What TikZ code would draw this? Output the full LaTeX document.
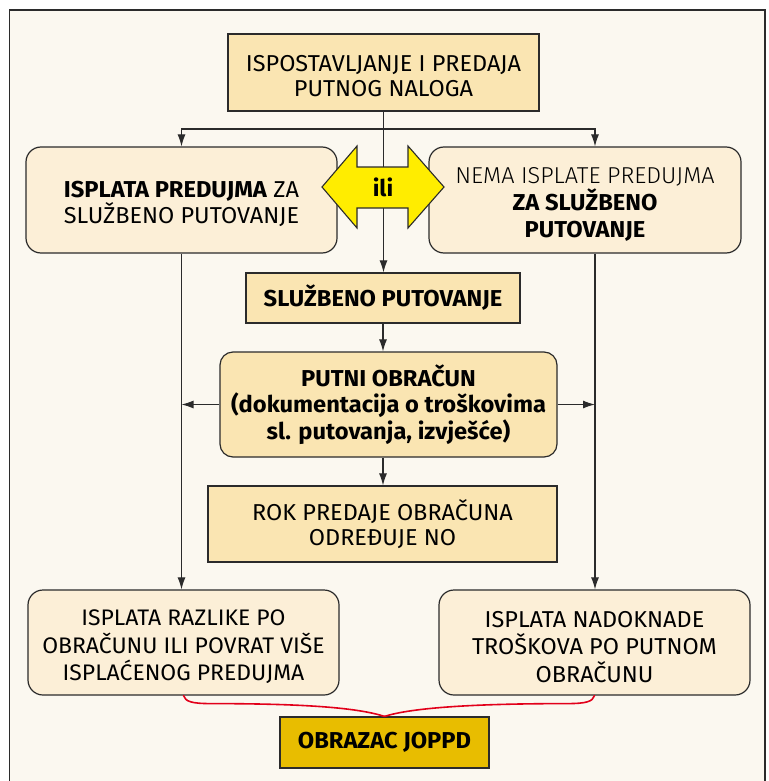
\documentclass[tikz,border=0pt]{standalone}
\usepackage{fontspec}
\setmainfont{Fira Sans}[FakeStretch=1.02, BoldFeatures={FakeStretch=1.03}]
\newfontfamily\lightfont{Fira Sans Light}[FakeStretch=1.02]
\usetikzlibrary{arrows.meta,calc}
\definecolor{cream}{HTML}{FBF8F0}
\definecolor{tan}{HTML}{FAE5B2}
\definecolor{lite}{HTML}{FCEFD7}
\definecolor{gold}{HTML}{E8BD00}
\definecolor{ylw}{HTML}{FFED00}
\definecolor{lnc}{HTML}{2B2B2B}
\definecolor{bracered}{HTML}{E2001A}
\newcommand\tup[1]{\rule{0pt}{#1pt}}
\tikzset{
  box/.style={draw=lnc, line width=1.2pt, align=center, inner sep=0pt,
    font=\fontsize{23}{27}\selectfont, text=black},
  sq/.style={box, fill=tan},
  rd/.style={box, fill=lite, rounded corners=15pt},
  arr/.style={draw=lnc, line width=1.1pt, -{Latex[length=12pt,width=8pt]}},
  ln/.style={draw=lnc, line width=1.1pt},
  brace/.style={draw=bracered, line width=1.6pt, line cap=round},
}
\begin{document}
\begin{tikzpicture}[x=1pt,y=-1pt]
\useasboundingbox (0,0) rectangle (768,781);
\fill[white] (0,0) rectangle (768,781);
\fill[cream] (9.5,781) -- (9.5,10) -- (765,10) -- (765,781) -- cycle;
\draw[draw=lnc, line width=1.6pt] (9.5,781) -- (9.5,10) -- (765,10) -- (765,781);

\node[sq, minimum width=311, minimum height=77, font=\fontsize{23}{25.5}\selectfont] (top) at (383.5,72.5)
  {\tup{23}ISPOSTAVLJANJE I PREDAJA\\PUTNOG NALOGA};
\node[rd, minimum width=311, minimum height=106, font=\fontsize{23}{26.5}\selectfont] (L1) at (181.5,200)
  {\tup{24}\textbf{ISPLATA PREDUJMA} ZA\\SLUŽBENO PUTOVANJE};
\node[rd, minimum width=312, minimum height=106] (R1) at (585,200)
  {\tup{24}{\lightfont NEMA ISPLATE PREDUJMA}\\\textbf{ZA SLUŽBENO}\\\textbf{PUTOVANJE}};
\node[sq, minimum width=274, minimum height=50, font=\fontsize{23}{27}\selectfont\bfseries] (SP) at (383,298)
  {SLUŽBENO PUTOVANJE};
\node[sq, rounded corners=13pt, minimum width=337, minimum height=105, font=\fontsize{23}{26.5}\selectfont\bfseries] (PO) at (388.5,404.5)
  {PUTNI OBRAČUN\\(dokumentacija o troškovima\\sl. putovanja, izvješće)};
\node[sq, minimum width=349, minimum height=76, font=\fontsize{23}{25.5}\selectfont] (ROK) at (382.5,524)
  {ROK PREDAJE OBRAČUNA\\ODREĐUJE NO};
\node[rd, minimum width=311, minimum height=105, font=\fontsize{22.5}{27.5}\selectfont] (L2) at (183.5,642.5)
  {\tup{25}ISPLATA RAZLIKE PO\\OBRAČUNU ILI POVRAT VIŠE\\ISPLAĆENOG PREDUJMA};
\node[rd, minimum width=311, minimum height=105, font=\fontsize{23}{27.5}\selectfont] (R2) at (594.5,642.5)
  {\tup{25}ISPLATA NADOKNADE\\TROŠKOVA PO PUTNOM\\OBRAČUNU};
\node[box, fill=gold, minimum width=209, minimum height=51, font=\fontsize{23}{27}\selectfont\bfseries] (JO) at (384.5,742.5)
  {OBRAZAC JOPPD};

\coordinate (rx) at (595,0);
\coordinate (br) at (383.5,129);
% connectors
\draw[ln] (top.south) -- (br);
\draw[arr] (br) -| (L1.north);
\draw[arr] (br) -| (rx |- R1.north);
\draw[arr] (top.south) -- (top.south |- SP.north);
\draw[arr] (SP.south) -- (SP.south |- PO.north);
\draw[arr] (SP.south |- PO.south) -- (SP.south |- ROK.north);
\draw[arr] (L1.south) -- (L1.south |- L2.north);
\draw[arr] (rx |- R1.south) -- (rx |- R2.north);
\draw[arr] (PO.west) -- (PO.west -| L1.south);
\draw[arr] (PO.east) -- (PO.east -| rx);

% ili double arrow
\filldraw[fill=ylw, draw=lnc, line width=1.1pt, line join=miter]
  (322,187) -- (357,146) -- (357,167) -- (408,167) -- (408,146) -- (444,187)
  -- (408,228) -- (408,208) -- (357,208) -- (357,228) -- cycle;
\node[font=\fontsize{23}{27}\selectfont\bfseries, inner sep=0pt] (ili) at (383,187) {ili};

% brace
\draw[brace] (L2.south) .. controls +(2,6) and +(-20,0) .. +(28,8)
  .. controls +(100,0) and +(-25,-8) .. (JO.north);
\draw[brace] (R2.south) .. controls +(-2,6) and +(20,0) .. +(-28,8)
  .. controls +(-100,0) and +(25,-8) .. (JO.north);
\end{tikzpicture}
\end{document}
